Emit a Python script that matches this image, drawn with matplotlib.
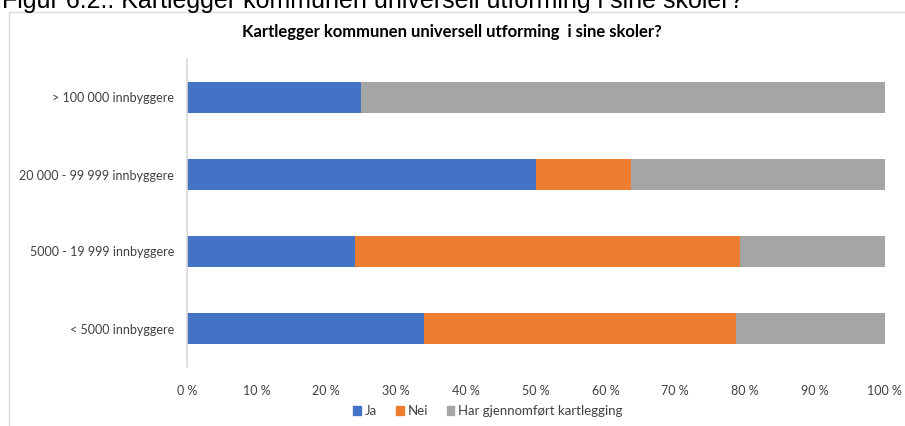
import matplotlib.pyplot as plt
from matplotlib.patches import Patch
from matplotlib.lines import Line2D

# --- Data (bottom to top) ---
categories = ["< 5000 innbyggere", "5000 - 19 999 innbyggere",
              "20 000 - 99 999 innbyggere", "> 100 000 innbyggere"]
ja = [34.0, 24.1, 50.0, 25.0]
nei = [44.7, 55.2, 13.6, 0.0]
har = [21.3, 20.7, 36.4, 75.0]
series_names = ["Ja", "Nei", "Har gjennomført kartlegging"]
colors = ["#4472C4", "#ED7D31", "#A5A5A5"]
xticks = [0, 10, 20, 30, 40, 50, 60, 70, 80, 90, 100]

W, H = 905, 426
fig = plt.figure(figsize=(W / 100, H / 100), dpi=100)

# outer caption (cut off at the top in the original)
fig.text(2 / W, 1 - 8 / H, "Figur 6.2.: Kartlegger kommunen universell utforming i sine skoler?",
         family="Liberation Sans", fontsize=18, va="baseline", ha="left", color="#000000")

# chart frame
fig.add_artist(Line2D([9 / W, 9 / W], [0, 1 - 12 / H], transform=fig.transFigure,
                      color="#d9d9d9", lw=1))
fig.add_artist(Line2D([9 / W, 1], [1 - 12 / H, 1 - 12 / H], transform=fig.transFigure,
                      color="#d9d9d9", lw=1))

fig.text(452 / W, 1 - 32 / H, "Kartlegger kommunen universell utforming  i sine skoler?",
         family="Lato", fontweight="bold", fontsize=12, ha="center", va="center")

ax = fig.add_axes([186.7 / W, (H - 367) / H, 698 / W, 308 / H])
y = range(len(categories))
left = [0] * len(categories)
for vals, name, c in zip([ja, nei, har], series_names, colors):
    ax.barh(y, vals, left=left, height=0.39, color=c, label=name)
    left = [l + v for l, v in zip(left, vals)]

ax.set_xlim(0, 100)
ax.set_ylim(-0.5, len(categories) - 0.5)
ax.set_xticks(xticks)
ax.set_xticklabels([f"{t} %" for t in xticks], family="Lato", fontsize=9, color="#404040")
ax.set_yticks(list(y))
ax.set_yticklabels(categories, family="Lato", fontsize=9, color="#404040")
ax.tick_params(axis="both", length=0)
ax.tick_params(axis="y", pad=9)
ax.tick_params(axis="x", pad=13)
for s in ["top", "right", "bottom"]:
    ax.spines[s].set_visible(False)
ax.spines["left"].set_color("#d9d9d9")
ax.spines["left"].set_linewidth(1.2)

handles = [Patch(color=c, label=n) for c, n in zip(colors, series_names)]
fig.legend(handles=handles, loc="center", bbox_to_anchor=(488 / W, 1 - 411 / H), ncol=3,
           frameon=False, handlelength=0.6, handleheight=0.6, handletextpad=0.3,
           columnspacing=1.4, prop={"family": "Lato", "size": 9.5}, labelcolor="#404040")

fig.savefig("out.png", dpi=100)
